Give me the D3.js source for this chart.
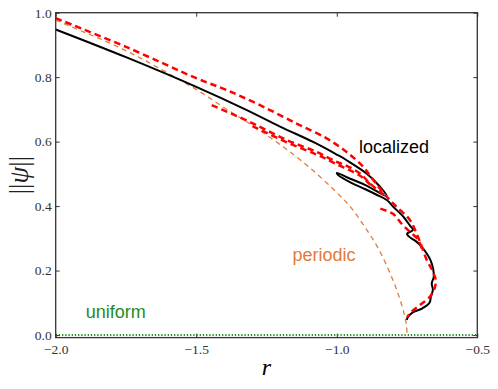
<!DOCTYPE html>
<html>
<head>
<meta charset="utf-8">
<script src="https://cdn.jsdelivr.net/npm/d3@7"></script>
<style>
  body { margin: 0; background: #fff; }
</style>
</head>
<body>
<div id="chart"></div>
<script>
// ticks
var xTicks = [-2.0, -1.5, -1.0, -0.5];
var yTicks = [0.0, 0.2, 0.4, 0.6, 0.8, 1.0];

// uniform state (psi = 0 everywhere)
var uniformCurve = [[-2.0, 0.0], [-0.5, 0.0]];

// periodic branch
var periodicCurve = [
  [-2.0, 0.977], [-1.9, 0.940], [-1.8, 0.903], [-1.7, 0.860], [-1.6, 0.812],
  [-1.5, 0.762], [-1.4, 0.705], [-1.3, 0.650], [-1.2, 0.590], [-1.1, 0.522],
  [-1.0, 0.442], [-0.95, 0.396], [-0.9, 0.335], [-0.85, 0.265], [-0.8, 0.170],
  [-0.775, 0.110], [-0.76, 0.065], [-0.752, 0.030], [-0.750, 0.0]
];

// localized branch (snaking)
var localizedCurve = [
  [-2.0, 0.948], [-1.75, 0.862], [-1.5, 0.770], [-1.32, 0.698], [-1.2, 0.646],
  [-1.084, 0.599], [-1.0, 0.560], [-0.966, 0.543], [-0.894, 0.501], [-0.846, 0.460],
  [-0.822, 0.431],
  [-0.90, 0.466], [-0.96, 0.488], [-1.0, 0.503],
  [-0.996, 0.497], [-0.95, 0.473], [-0.90, 0.453], [-0.86, 0.436], [-0.822, 0.419],
  [-0.799, 0.398], [-0.763, 0.367], [-0.740, 0.340], [-0.729, 0.326],
  [-0.750, 0.314], [-0.744, 0.306], [-0.720, 0.292], [-0.700, 0.276], [-0.680, 0.253],
  [-0.667, 0.233], [-0.657, 0.205], [-0.655, 0.180], [-0.662, 0.160], [-0.658, 0.140],
  [-0.665, 0.120], [-0.670, 0.100], [-0.695, 0.083], [-0.728, 0.071], [-0.746, 0.057],
  [-0.751, 0.047]
];

// unstable localized branches (dashed red)
var redUpper = [
  [-2.0, 0.983], [-1.75, 0.894], [-1.5, 0.797], [-1.392, 0.760], [-1.273, 0.713],
  [-1.143, 0.656], [-1.036, 0.610], [-0.965, 0.568], [-0.906, 0.522], [-0.870, 0.481],
  [-0.822, 0.429], [-0.787, 0.398], [-0.740, 0.357], [-0.716, 0.315], [-0.700, 0.280],
  [-0.680, 0.233], [-0.660, 0.200], [-0.648, 0.170], [-0.652, 0.145], [-0.668, 0.119],
  [-0.704, 0.093], [-0.734, 0.072], [-0.750, 0.055]
];
var redLower = [
  [-1.445, 0.713], [-1.404, 0.698], [-1.297, 0.656], [-1.178, 0.605], [-1.072, 0.568],
  [-1.0, 0.537], [-0.965, 0.525], [-0.917, 0.501], [-0.882, 0.470], [-0.846, 0.444],
  [-0.822, 0.430]
];
var redLower2 = [
  [-1.30, 0.648], [-1.178, 0.598], [-1.072, 0.560], [-1.0, 0.530], [-0.917, 0.494],
  [-0.880, 0.466]
];
var redBranch = [
  [-0.845, 0.392], [-0.800, 0.376], [-0.770, 0.346], [-0.740, 0.320], [-0.710, 0.295],
  [-0.695, 0.260]
];

var width = 498, height = 389;
var margin = {top: 12.7, right: 20.7, bottom: 51.4, left: 55.7};

var x = d3.scaleLinear().domain([-2.0, -0.5]).range([margin.left, width - margin.right]);
var y = d3.scaleLinear().domain([-0.008, 1.0]).range([height - margin.bottom, margin.top]);

var svg = d3.select("#chart").append("svg")
  .attr("width", width)
  .attr("height", height);

var serif = "'Liberation Serif', 'DejaVu Serif', serif";
var sans = "'Liberation Sans', Arial, sans-serif";
var fmt = function(d) { return d3.format(".1f")(d).replace("-", "\u2212"); };

// axes, ticks point inward on all four sides
function tidy(g) {
  g.select(".domain").remove();
  g.selectAll(".tick line").attr("stroke", "#333");
  g.selectAll(".tick text")
    .style("font-family", serif).style("font-size", "13.5px").attr("fill", "#333");
}
svg.append("g")
  .attr("transform", "translate(0," + y.range()[0] + ")")
  .call(d3.axisBottom(x).tickValues(xTicks).tickSizeInner(-4).tickSizeOuter(0).tickPadding(7).tickFormat(fmt))
  .call(tidy);
svg.append("g")
  .attr("transform", "translate(0," + y.range()[1] + ")")
  .call(d3.axisTop(x).tickValues(xTicks).tickSizeInner(-4).tickSizeOuter(0).tickFormat(""))
  .call(tidy);
svg.append("g")
  .attr("transform", "translate(" + x.range()[0] + ",0)")
  .call(d3.axisLeft(y).tickValues(yTicks).tickSizeInner(-4).tickSizeOuter(0).tickPadding(4).tickFormat(fmt))
  .call(tidy);
svg.append("g")
  .attr("transform", "translate(" + x.range()[1] + ",0)")
  .call(d3.axisRight(y).tickValues(yTicks).tickSizeInner(-4).tickSizeOuter(0).tickFormat(""))
  .call(tidy);

var line = d3.line()
  .x(function(d) { return x(d[0]); })
  .y(function(d) { return y(d[1]); })
  .curve(d3.curveCatmullRom.alpha(0.5));

var plot = svg.append("g");

plot.append("path").datum(uniformCurve)
  .attr("d", line).attr("fill", "none")
  .attr("stroke", "#138a13").attr("stroke-width", 2).attr("stroke-dasharray", "1.2,2");

plot.append("path").datum(periodicCurve)
  .attr("d", line).attr("fill", "none")
  .attr("stroke", "#e07b39").attr("stroke-width", 1.3).attr("stroke-dasharray", "5,4");

plot.append("path").datum(localizedCurve)
  .attr("d", line).attr("fill", "none")
  .attr("stroke", "#000").attr("stroke-width", 2).attr("stroke-linejoin", "round");

[redUpper, redLower, redLower2, redBranch].forEach(function(c) {
  plot.append("path").datum(c)
    .attr("d", line).attr("fill", "none")
    .attr("stroke", "#ff0000").attr("stroke-width", 2.5).attr("stroke-dasharray", "6.5,4");
});

// frame
svg.append("rect")
  .attr("x", x.range()[0]).attr("y", y.range()[1])
  .attr("width", x.range()[1] - x.range()[0])
  .attr("height", y.range()[0] - y.range()[1])
  .attr("fill", "none").attr("stroke", "#333").attr("stroke-width", 1.3);

// labels inside the plot
svg.append("text").attr("x", 359).attr("y", 153).text("localized")
  .style("font-family", sans).style("font-size", "18px").attr("fill", "#000");
svg.append("text").attr("x", 292.5).attr("y", 261).text("periodic")
  .style("font-family", sans).style("font-size", "18px").attr("fill", "#e07b39");
svg.append("text").attr("x", 85.7).attr("y", 318).text("uniform")
  .style("font-family", sans).style("font-size", "18px").attr("fill", "#1e8c1e");

// axis titles
svg.append("text")
  .attr("x", (x.range()[0] + x.range()[1]) / 2).attr("y", 375)
  .attr("text-anchor", "middle")
  .style("font-family", serif).style("font-size", "24px").style("font-style", "italic")
  .text("r");

var ylab = svg.append("text")
  .attr("transform", "translate(28," + ((y.range()[0] + y.range()[1]) / 2) + ") rotate(-90)")
  .attr("text-anchor", "middle")
  .style("font-family", serif).style("font-size", "27px").attr("fill", "#222");
ylab.append("tspan").text("||");
ylab.append("tspan").style("font-style", "italic").text("\u03C8");
ylab.append("tspan").text("||");
</script>
</body>
</html>
